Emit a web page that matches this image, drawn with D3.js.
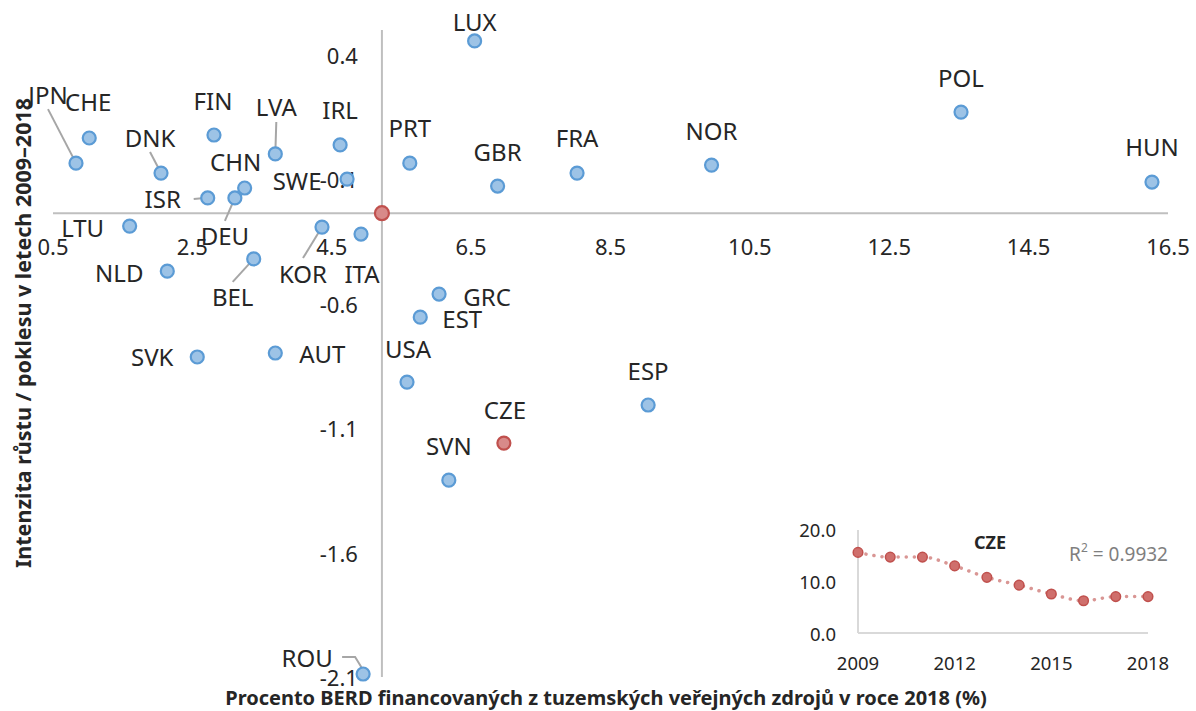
<!DOCTYPE html>
<meta charset="utf-8">
<html>
  <head>
    <script src="https://cdn.jsdelivr.net/npm/d3@7"></script>
    <style>
      body { margin: 0; background: #fff; }
      svg text { font-family: "Noto Sans", "Open Sans", sans-serif; fill: #262626; }
    </style>
  </head>
  <body>
    <div id="chart"></div>
    <script>
      const width = 1196, height = 711;

      // main scatter: country, % BERD from domestic public funds (2018), growth/decline intensity 2009-2018
      const countries = ["JPN","CHE","DNK","FIN","LVA","IRL","CHN","ISR","DEU","SWE","LTU","KOR","ITA","NLD","BEL","SVK","AUT",
                         "LUX","PRT","GBR","FRA","NOR","POL","HUN","GRC","EST","USA","ESP","CZE","SVN","ROU"];
      const xValues = [0.83, 1.02, 2.05, 2.81, 3.69, 4.62, 3.25, 2.72, 3.11, 4.72, 1.60, 4.36, 4.92, 2.14, 3.38, 2.57, 3.69,
                       6.55, 5.62, 6.88, 8.02, 9.95, 13.53, 16.27, 6.04, 5.77, 5.58, 9.04, 6.97, 6.18, 4.95];
      const yValues = [-0.035, 0.066, -0.075, 0.078, 0.002, 0.038, -0.135, -0.175, -0.175, -0.099, -0.288, -0.292, -0.32, -0.469, -0.42, -0.814, -0.798,
                       0.456, -0.035, -0.127, -0.075, -0.043, 0.170, -0.111, -0.561, -0.654, -0.915, -1.007, -1.16, -1.309, -2.088];
      const crossX = 5.22, crossY = -0.236;   // axes cross at the average (red dot)
      const xTicks = [0.5, 2.5, 4.5, 6.5, 8.5, 10.5, 12.5, 14.5, 16.5];
      const yTicks = [0.4, -0.1, -0.6, -1.1, -1.6, -2.1];

      // inset: CZE series
      const insetYears = [2009, 2010, 2011, 2012, 2013, 2014, 2015, 2016, 2017, 2018];
      const insetValues = [15.5, 14.6, 14.6, 12.9, 10.7, 9.2, 7.5, 6.2, 7.0, 7.0];
      const insetXTicks = [2009, 2012, 2015, 2018];
      const insetYTicks = [0, 10, 20];

      // label placement relative to the dot (px), leader = draw a connector line
      const labelPos = {
        JPN: [-28, -69, true], CHE: [-1, -36], DNK: [-11, -36, true], FIN: [-1, -35], LVA: [1, -47, true],
        IRL: [0, -35], CHN: [-9, -27], ISR: [-45, 1, true], DEU: [-10, 38, true], SWE: [-50, 1],
        LTU: [-47, 1], KOR: [-19, 46, true], ITA: [1, 39], NLD: [-48, 1], BEL: [-21, 38, true],
        SVK: [-45, 0], AUT: [47, 0], LUX: [0, -19], PRT: [0, -36], GBR: [0, -35], FRA: [0, -36],
        NOR: [0, -35], POL: [0, -35], HUN: [0, -36], GRC: [48, 2], EST: [42, 1], USA: [1, -34],
        ESP: [0, -35], CZE: [1, -34], SVN: [0, -35], ROU: [-56, -17, true]
      };

      const svg = d3.select("#chart").append("svg")
        .attr("width", width).attr("height", height);

      const x = d3.scaleLinear().domain([0.5, 16.5]).range([53, 1168]);
      const y = d3.scaleLinear().domain([-2.1, 0.5]).range([677, 30]);

      const axisColor = "#bfbfbf";

      // axis lines
      svg.append("line")
        .attr("x1", x(0.5)).attr("x2", x(16.5))
        .attr("y1", y(crossY)).attr("y2", y(crossY))
        .attr("stroke", axisColor).attr("stroke-width", 2);
      svg.append("line")
        .attr("x1", x(crossX)).attr("x2", x(crossX))
        .attr("y1", y(0.5)).attr("y2", y(-2.1))
        .attr("stroke", axisColor).attr("stroke-width", 2);

      // tick labels
      svg.append("g").selectAll("text").data(xTicks).join("text")
        .attr("x", d => x(d)).attr("y", y(crossY) + 33)
        .attr("text-anchor", "middle").attr("dominant-baseline", "central")
        .style("font-size", "22px")
        .text(d => d.toFixed(1));
      svg.append("g").selectAll("text").data(yTicks).join("text")
        .attr("x", x(crossX) - 24).attr("y", d => y(d))
        .attr("text-anchor", "end").attr("dominant-baseline", "central")
        .style("font-size", "22px")
        .text(d => d.toFixed(1));

      const points = countries.map((c, i) => ({code: c, x: xValues[i], y: yValues[i]}));

      // leader lines
      svg.append("g").selectAll("path")
        .data(points.filter(d => labelPos[d.code][2]))
        .join("path")
        .attr("fill", "none").attr("stroke", "#a6a6a6").attr("stroke-width", 2)
        .attr("d", d => {
          const px = x(d.x), py = y(d.y);
          const [dx, dy] = labelPos[d.code];
          if (d.code === "ISR") return `M${px + dx + 31},${py + dy} L${px - 3},${py}`;
          if (d.code === "ROU") return `M${px + dx + 35},${py + dy} L${px - 8},${py + dy} L${px},${py - 4}`;
          const lx = px + dx, ly = py + dy + (dy < 0 ? 15 : -15);
          return `M${lx},${ly} L${px},${py}`;
        });

      // points
      const isRed = d => d.code === "CZE";
      svg.append("g").selectAll("circle").data(points).join("circle")
        .attr("cx", d => x(d.x)).attr("cy", d => y(d.y)).attr("r", 6.5)
        .attr("fill", d => isRed(d) ? "#d88a89" : "#9dc3e6")
        .attr("stroke", d => isRed(d) ? "#c0504d" : "#5b9bd5")
        .attr("stroke-width", 2.2);

      svg.append("circle")
        .attr("cx", x(crossX)).attr("cy", y(crossY)).attr("r", 7)
        .attr("fill", "#d88a89").attr("stroke", "#c0504d").attr("stroke-width", 2.2);

      // labels
      svg.append("g").selectAll("text").data(points).join("text")
        .attr("x", d => x(d.x) + labelPos[d.code][0])
        .attr("y", d => y(d.y) + labelPos[d.code][1])
        .attr("text-anchor", "middle").attr("dominant-baseline", "central")
        .style("font-size", "24px")
        .text(d => d.code);

      // axis titles
      svg.append("text")
        .attr("x", 606).attr("y", 697)
        .attr("text-anchor", "middle").attr("dominant-baseline", "central")
        .style("font-size", "20px").style("font-weight", "bold")
        .text("Procento BERD financovaných z tuzemských veřejných zdrojů v roce 2018 (%)");
      svg.append("text")
        .attr("transform", "translate(22,333) rotate(-90)")
        .attr("text-anchor", "middle").attr("dominant-baseline", "central")
        .style("font-size", "21.5px").style("font-weight", "bold")
        .text("Intenzita růstu / poklesu v letech 2009–2018");

      // inset chart
      const ix = d3.scaleLinear().domain([2009, 2018]).range([858, 1148]);
      const iy = d3.scaleLinear().domain([0, 20]).range([633, 529]);
      const inset = svg.append("g");

      inset.append("line")
        .attr("x1", ix(2009)).attr("x2", ix(2009)).attr("y1", iy(20) + 1).attr("y2", iy(0))
        .attr("stroke", "#d9d9d9").attr("stroke-width", 2);
      inset.append("line")
        .attr("x1", ix(2009)).attr("x2", ix(2018)).attr("y1", iy(0)).attr("y2", iy(0))
        .attr("stroke", "#d9d9d9").attr("stroke-width", 2);

      inset.selectAll(".ytick").data(insetYTicks).join("text")
        .attr("class", "ytick")
        .attr("x", 836).attr("y", d => iy(d))
        .attr("text-anchor", "end").attr("dominant-baseline", "central")
        .style("font-size", "18.5px")
        .text(d => d.toFixed(1));
      inset.selectAll(".xtick").data(insetXTicks).join("text")
        .attr("class", "xtick")
        .attr("x", d => ix(d)).attr("y", 662)
        .attr("text-anchor", "middle").attr("dominant-baseline", "central")
        .style("font-size", "18.5px")
        .text(d => d);

      const insetData = insetYears.map((yr, i) => ({yr, v: insetValues[i]}));
      inset.append("path")
        .datum(insetData)
        .attr("fill", "none").attr("stroke", "#d99694").attr("stroke-width", 3.5)
        .attr("stroke-dasharray", "0.1,8").attr("stroke-linecap", "round")
        .attr("d", d3.line().x(d => ix(d.yr)).y(d => iy(d.v)).curve(d3.curveMonotoneX));
      inset.selectAll("circle").data(insetData).join("circle")
        .attr("cx", d => ix(d.yr)).attr("cy", d => iy(d.v)).attr("r", 4.8)
        .attr("fill", "#cf6f6c").attr("stroke", "#c0504d").attr("stroke-width", 1.5);

      inset.append("text")
        .attr("x", 990).attr("y", 542)
        .attr("text-anchor", "middle").attr("dominant-baseline", "central")
        .style("font-size", "18px").style("font-weight", "bold")
        .text("CZE");
      const r2 = inset.append("text")
        .attr("x", 1168).attr("y", 554)
        .attr("text-anchor", "end").attr("dominant-baseline", "central")
        .style("font-size", "19px").style("fill", "#7f7f7f");
      r2.append("tspan").text("R");
      r2.append("tspan").attr("dy", -7).style("font-size", "12px").text("2");
      r2.append("tspan").attr("dy", 7).text(" = 0.9932");
    </script>
  </body>
</html>
